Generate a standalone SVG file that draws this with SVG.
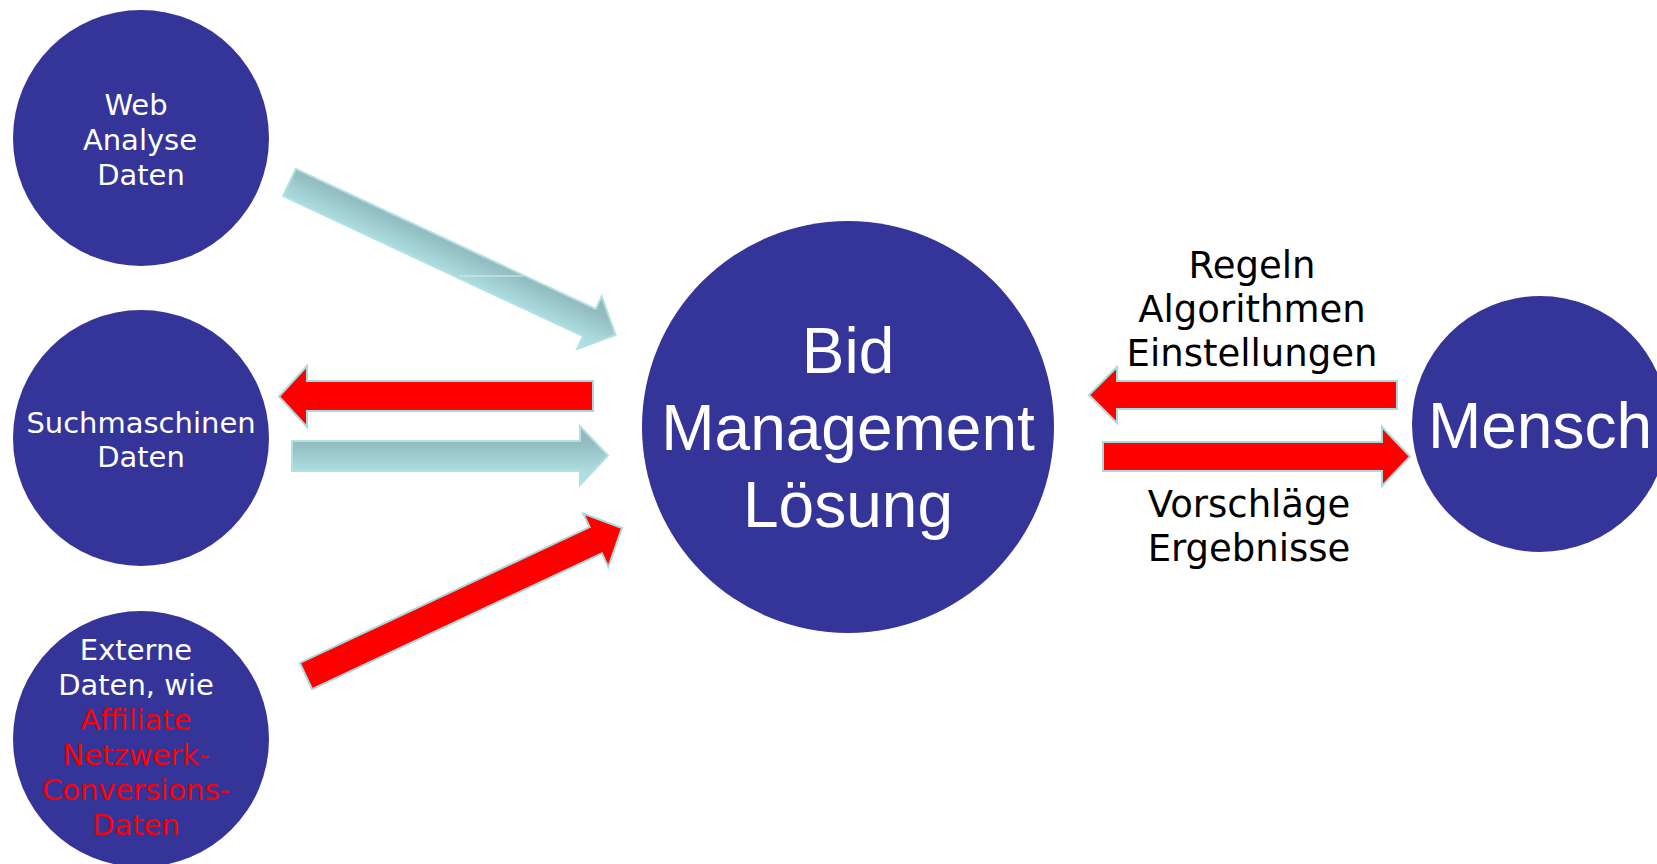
<svg xmlns="http://www.w3.org/2000/svg" width="1657" height="864" viewBox="0 0 1657 864">
<style>
.node{fill:#343499}
.small{font-family:"DejaVu Sans","Verdana",sans-serif;font-size:29px;fill:#ffffff;text-anchor:middle}
.small .red{fill:#ff0000}
.big{font-family:"Liberation Sans",Arial,sans-serif;font-size:64px;fill:#ffffff;text-anchor:middle}
.lbl{font-family:"DejaVu Sans","Verdana",sans-serif;font-size:37px;fill:#000000;text-anchor:middle}
.teal{fill:url(#tg);stroke:#b2e0e3;stroke-width:2;stroke-linejoin:miter}
.redarr{fill:#ff0000;stroke:#a9d9dc;stroke-width:2;stroke-linejoin:miter}
</style>
<defs>
<linearGradient id="tg" x1="0" y1="0" x2="0" y2="1">
<stop offset="0" stop-color="#8fb8bb"/>
<stop offset="0.28" stop-color="#92bcbf"/>
<stop offset="0.75" stop-color="#acdcdf"/>
<stop offset="1" stop-color="#b2e2e4"/>
</linearGradient>
</defs>
<rect width="1657" height="864" fill="#ffffff"/>

<g id="connectors">
<polygon class="teal" transform="translate(289.5,182.5) rotate(25.04)" points="0,-15 331,-15 331,-29 360,0 331,29 331,15 0,15"/>
<line x1="460" y1="276" x2="523" y2="276" stroke="#dcefef" stroke-width="1"/>
<polygon class="redarr" points="593,381 307,381 307,366 279,396.5 307,427 307,411 593,411"/>
<polygon class="teal" points="292,441 580,441 580,426 608,455.5 580,485 580,471 292,471"/>
<polygon class="redarr" transform="translate(306,676) rotate(-25.1)" points="0,-14.5 320,-14.5 320,-29.5 349,0 320,29.5 320,14.5 0,14.5"/>
<polygon class="redarr" points="1397,381 1117,381 1117,367 1089,395 1117,423 1117,409 1397,409"/>
<polygon class="redarr" points="1103,442 1382,442 1382,427 1410,456.5 1382,486 1382,471 1103,471"/>
</g>

<g id="node-web">
<circle class="node" cx="141" cy="138" r="128"/>
<text class="small"><tspan x="136" y="115">Web</tspan><tspan x="140" y="150">Analyse</tspan><tspan x="141" y="185">Daten</tspan></text>
</g>

<g id="node-such">
<circle class="node" cx="141" cy="438" r="128"/>
<text class="small"><tspan x="141" y="433">Suchmaschinen</tspan><tspan x="141" y="467">Daten</tspan></text>
</g>

<g id="node-extern">
<circle class="node" cx="141" cy="739" r="128"/>
<text class="small"><tspan x="136" y="660">Externe</tspan><tspan x="136" y="695">Daten, wie</tspan><tspan class="red" x="136" y="730">Affiliate</tspan><tspan class="red" x="136" y="765">Netzwerk-</tspan><tspan class="red" x="136" y="800">Conversions-</tspan><tspan class="red" x="136" y="835">Daten</tspan></text>
</g>

<g id="node-bid">
<circle class="node" cx="848" cy="427" r="206"/>
<text class="big"><tspan x="848" y="373">Bid</tspan><tspan x="848" y="450">Management</tspan><tspan x="848" y="527">Lösung</tspan></text>
</g>

<g id="node-mensch">
<circle class="node" cx="1540" cy="424" r="128"/>
<text class="big" x="1540" y="448">Mensch</text>
</g>

<g id="labels">
<text class="lbl"><tspan x="1252" y="278">Regeln</tspan><tspan x="1252" y="322">Algorithmen</tspan><tspan x="1252" y="366">Einstellungen</tspan></text>
<text class="lbl"><tspan x="1249" y="517">Vorschläge</tspan><tspan x="1249" y="561">Ergebnisse</tspan></text>
</g>
</svg>
